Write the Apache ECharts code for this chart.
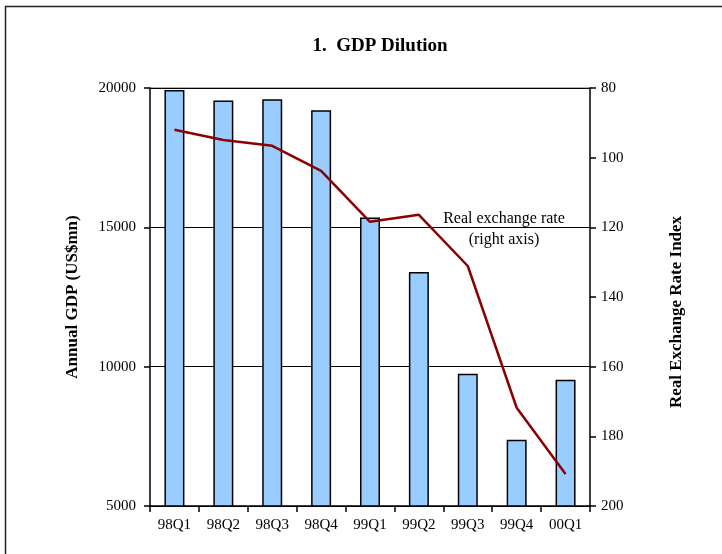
<!DOCTYPE html>
<html><head><meta charset="utf-8">
<script src="https://cdn.jsdelivr.net/npm/echarts@6/dist/echarts.min.js"></script>
<style>html,body{margin:0;padding:0;background:#fff}#c{width:722px;height:554px}</style>
</head><body><div id="c"></div>
<script>
const categories = ['98Q1','98Q2','98Q3','98Q4','99Q1','99Q2','99Q3','99Q4','00Q1'];
const gdpValues = [19930, 19550, 19600, 19200, 15350, 13400, 9750, 7380, 9530];
const rerValues = [92.0, 94.9, 96.6, 103.8, 118.4, 116.4, 131.1, 171.8, 190.8];
const leftTicks = {min: 5000, max: 20000, interval: 5000};
const rightTicks = {min: 80, max: 200, interval: 20};

const FONT = 'Liberation Serif';
const chart = echarts.init(document.getElementById('c'));
chart.setOption({
  animation: false,
  backgroundColor: '#fff',
  title: {
    text: '1.  GDP Dilution', left: 375, textAlign: 'center', top: 32,
    textStyle: {fontFamily: FONT, fontSize: 19, fontWeight: 'bold', color: '#000'}
  },
  grid: {left: 150, right: 132, top: 88, bottom: 48},
  xAxis: {
    type: 'category', data: categories,
    axisLine: {lineStyle: {color: '#000', width: 1.5}},
    axisTick: {show: true, inside: false, length: 6, lineStyle: {color: '#000', width: 1.5}},
    axisLabel: {fontFamily: FONT, fontSize: 15, color: '#000', margin: 12}
  },
  yAxis: [{
    type: 'value', min: leftTicks.min, max: leftTicks.max, interval: leftTicks.interval,
    name: 'Annual GDP (US$mn)', nameLocation: 'middle', nameGap: 69, nameRotate: 90,
    nameTextStyle: {fontFamily: FONT, fontSize: 17, fontWeight: 'bold', color: '#000'},
    axisLine: {show: true, lineStyle: {color: '#000', width: 1.5}},
    axisTick: {show: true, length: 6, lineStyle: {color: '#000', width: 1.5}},
    axisLabel: {fontFamily: FONT, fontSize: 15, color: '#000', margin: 14,
      formatter: v => String(v)},
    splitLine: {show: true, lineStyle: {color: '#000', width: 1}}
  }, {
    type: 'value', min: rightTicks.min, max: rightTicks.max, interval: rightTicks.interval, inverse: true,
    name: 'Real Exchange Rate Index', nameLocation: 'middle', nameGap: 78, nameRotate: 90,
    nameTextStyle: {fontFamily: FONT, fontSize: 17, fontWeight: 'bold', color: '#000', padding: [0, 30, 0, 0]},
    axisLine: {show: true, lineStyle: {color: '#000', width: 1.5}},
    axisTick: {show: true, length: 6, lineStyle: {color: '#000', width: 1.5}},
    axisLabel: {fontFamily: FONT, fontSize: 15, color: '#000', margin: 11},
    splitLine: {show: false}
  }],
  series: [{
    type: 'bar', data: gdpValues, yAxisIndex: 0, barWidth: 20,
    itemStyle: {color: '#99CCFF', borderColor: '#000', borderWidth: 1.5}
  }, {
    type: 'line', data: rerValues, yAxisIndex: 1, showSymbol: false, symbol: 'none',
    lineStyle: {color: '#8B0000', width: 2.5}
  }],
  graphic: [
    {type: 'rect', shape: {x: 5.5, y: 6.5, width: 740, height: 560},
     style: {fill: 'none', stroke: '#222', lineWidth: 1.5}, silent: true},
    {type: 'line', shape: {x1: 150, y1: 88, x2: 590, y2: 88},
     style: {stroke: '#999', lineWidth: 1.5}, silent: true},
    {type: 'text', x: 504, y: 219, style: {text: 'Real exchange rate', fontFamily: FONT, fontSize: 16, fill: '#000', align: 'center', verticalAlign: 'middle'}},
    {type: 'text', x: 504, y: 240, style: {text: '(right axis)', fontFamily: FONT, fontSize: 16, fill: '#000', align: 'center', verticalAlign: 'middle'}}
  ]
});
</script></body></html>
